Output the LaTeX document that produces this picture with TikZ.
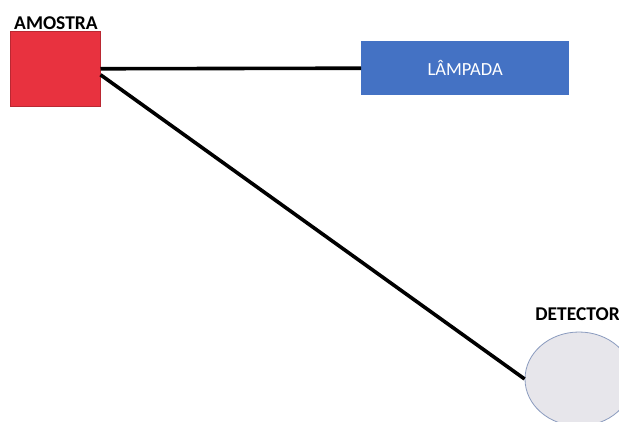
\documentclass[tikz,border=0pt]{standalone}
\usepackage{fontspec}
\setmainfont{Carlito}
\usetikzlibrary{calc,shapes.geometric}
\definecolor{samplered}{HTML}{E8323F}
\definecolor{lampblue}{HTML}{4472C4}
\definecolor{detgray}{HTML}{E7E6EB}
\definecolor{detedge}{HTML}{8A9BBE}
\tikzset{
  lbl/.style={font=\fontsize{19.5}{21}\selectfont\bfseries, text=black, inner sep=0pt},
  beam/.style={line width=3.6pt, black},
}
\begin{document}
\begin{tikzpicture}[x=1pt,y=-1pt]
  \useasboundingbox (0,0) rectangle (619,421);
  \begin{scope}
    \clip (0,0) rectangle (619,421);
    % detector, partly outside the frame
    \node[ellipse, draw=detedge, line width=0.8pt, fill=detgray,
          minimum width=108pt, minimum height=94pt, inner sep=0pt]
          (detector) at (579,379) {};
  \end{scope}
  % sample
  \node[draw=samplered!80!black, line width=0.5pt, fill=samplered,
        minimum width=90pt, minimum height=75pt, inner sep=0pt, anchor=north west]
        (sample) at (10,31) {};
  % lamp
  \node[fill=lampblue, minimum width=208pt, minimum height=54pt, inner sep=0pt,
        anchor=north west, text=white, font=\fontsize{18.5}{20}\selectfont]
        (lamp) at (361,41) {LÂMPADA};
  % labels
  \node[lbl, anchor=base west] (samplelbl) at (14,29) {AMOSTRA};
  \node[lbl, anchor=base east] (detlbl) at (620,320) {DETECTOR};
  % light paths
  \draw[beam] (sample.east) -- (lamp.west);
  \draw[beam] ($(sample.east)+(0,6)$) -- (detector.west);
\end{tikzpicture}
\end{document}
